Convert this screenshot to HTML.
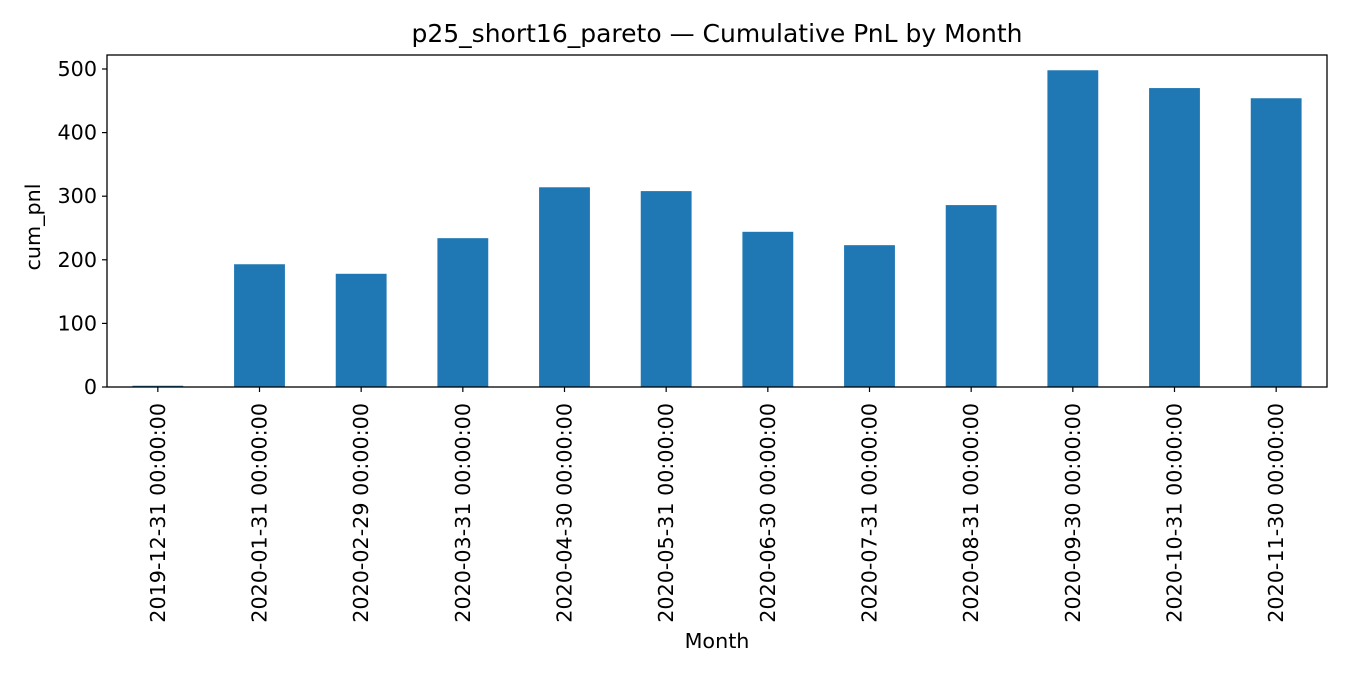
<!DOCTYPE html>
<html><head><meta charset="utf-8"><style>
body{margin:0;background:#fff;font-family:"Liberation Sans","DejaVu Sans",sans-serif;}
svg text{font-family:"DejaVu Sans","Liberation Sans",sans-serif;}
</style></head><body>
<svg id="chart" width="1350" height="675" viewBox="0 0 1350 675">
<rect width="1350" height="675" fill="#fff"/>
<text x="717" y="42" font-size="25" text-anchor="middle">p25_short16_pareto — Cumulative PnL by Month</text>
<g id="bars"></g>
<g id="yaxis"></g>
<g id="xaxis"></g>
<rect x="107" y="55" width="1220" height="332" fill="none" stroke="#000" stroke-width="1.3"/>
<text x="34" y="221" font-size="20.7" text-anchor="middle" transform="rotate(-90 40 221)">cum_pnl</text>
<text x="717" y="648" font-size="20.7" text-anchor="middle">Month</text>
</svg>
<script>
const categories = ["2019-12-31 00:00:00","2020-01-31 00:00:00","2020-02-29 00:00:00","2020-03-31 00:00:00","2020-04-30 00:00:00","2020-05-31 00:00:00","2020-06-30 00:00:00","2020-07-31 00:00:00","2020-08-31 00:00:00","2020-09-30 00:00:00","2020-10-31 00:00:00","2020-11-30 00:00:00"];
const values = [2, 193, 178, 234, 314, 308, 244, 223, 286, 498, 470, 454];
const yTicks = [0, 100, 200, 300, 400, 500];

const NS = "http://www.w3.org/2000/svg";
const plotL = 107, plotR = 1327, plotT = 55, plotB = 387, yMax = 522;
const step = (plotR - plotL) / categories.length;
const xPos = i => plotL + step * (i + 0.5);
const yPos = v => plotB - v / yMax * (plotB - plotT);
const barsG = document.getElementById('bars');
const yG = document.getElementById('yaxis');
const xG = document.getElementById('xaxis');
function mk(tag, attrs, parent){const e=document.createElementNS(NS,tag);for(const k in attrs)e.setAttribute(k,attrs[k]);parent.appendChild(e);return e;}
values.forEach((v,i)=>{
  const bw = step*0.5;
  const y = yPos(Math.max(v,0)), y0 = yPos(Math.min(v,0));
  const r = mk('rect',{x:xPos(i)-bw/2,y:y,width:bw,height:Math.max(y0-y,0.5),fill:'#1f77b4'},barsG);
  
  
  const t = mk('line',{x1:xPos(i),x2:xPos(i),y1:plotB,y2:plotB+5,stroke:'#000','stroke-width':1.2},xG);
  
  
  const lx = xPos(i)+7, ly = plotB+16;
  const lb = mk('text',{x:lx,y:ly,'font-size':20.7,'text-anchor':'end',transform:`rotate(-90 ${lx} ${ly})`},xG);
  lb.textContent = categories[i];
  
  
});
yTicks.forEach(v=>{
  const y = yPos(v);
  const t = mk('line',{x1:plotL-5,x2:plotL,y1:y,y2:y,stroke:'#000','stroke-width':1.2},yG);
  
  
  const lb = mk('text',{x:plotL-10,y:y+7,'font-size':20.7,'text-anchor':'end'},yG);
  lb.textContent = v;
  
  
});
</script>
</body></html>
